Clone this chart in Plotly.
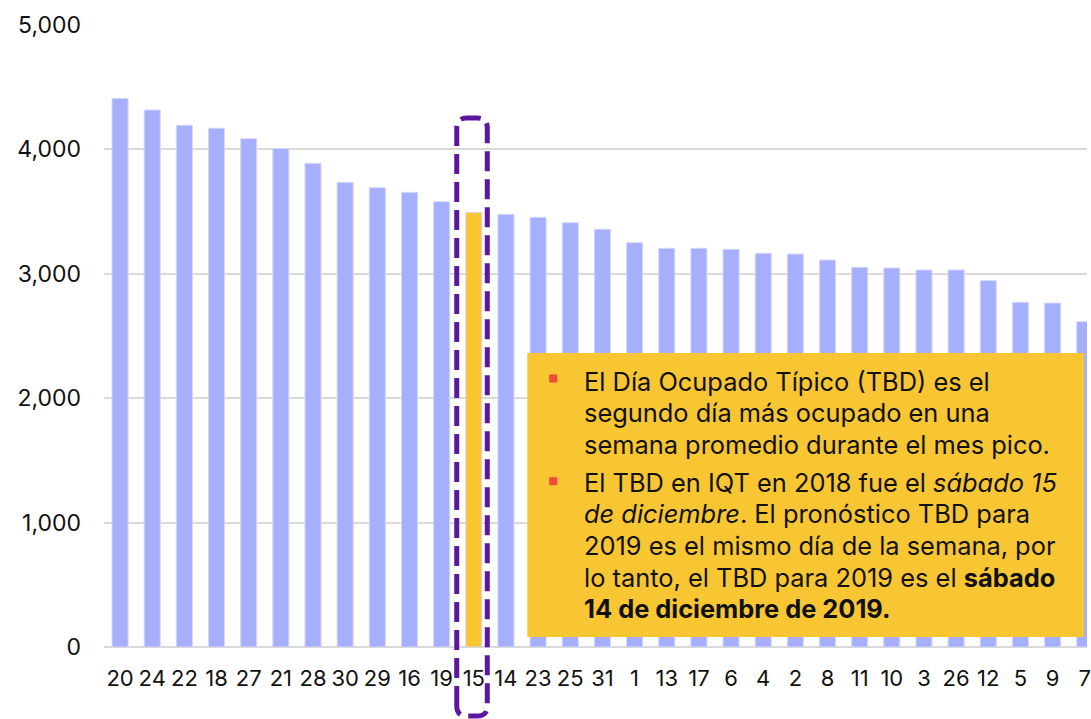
import plotly.graph_objects as go

# ---- data ----
days = ["20", "24", "22", "18", "27", "21", "28", "30", "29", "16", "19", "15", "14", "23", "25", "31",
        "1", "13", "17", "6", "4", "2", "8", "11", "10", "3", "26", "12", "5", "9", "7"]
pax = [4410, 4317, 4194, 4170, 4086, 4007, 3888, 3735, 3692, 3655, 3580, 3494, 3478, 3454, 3411, 3358,
       3250, 3205, 3205, 3197, 3165, 3159, 3111, 3052, 3047, 3031, 3031, 2945, 2771, 2765, 2615]
highlight_day = "15"
y_ticks = [0, 1000, 2000, 3000, 4000, 5000]

bullet1 = ["El Día Ocupado Típico (TBD) es el",
           "segundo día más ocupado en una",
           "semana promedio durante el mes pico."]
bullet2 = ["El TBD en IQT en 2018 fue el <i>sábado 15</i>",
           "<i>de diciembre</i>. El pronóstico TBD para",
           "2019 es el mismo día de la semana, por",
           "lo tanto, el TBD para 2019 es el <b>sábado</b>",
           "<b>14 de diciembre de 2019.</b>"]

# ---- layout geometry (page pixels) ----
W, H = 1091, 719
L, R, T, B = 104, 0, 25, 72
XMIN, XMAX = -0.5, 30.07
YMIN, YMAX = 0, 5000
FONT = "Inter, Roboto, sans-serif"

BAR_C = "#A6AFFC"
HI_C = "#F9C632"
BOX_C = "#F8C632"
PURPLE = "#5B17A0"
RED = "#F2493A"

PW = W - L - R
PH = H - T - B


def px_x(px):
    return (px - L) / PW


def px_y(py):
    return (H - B - py) / PH


def dx_paper(x):
    return (x - XMIN) / (XMAX - XMIN)


xs = list(range(len(days)))
colors = [HI_C if d == highlight_day else BAR_C for d in days]

fig = go.Figure()
fig.add_trace(go.Bar(x=xs, y=pax, marker=dict(color=colors, line=dict(color="#D4D8FE", width=1)),
                     width=0.5, hoverinfo="skip"))

shapes = []
# dashed rounded box around highlighted bar
hi = days.index(highlight_day)
x0, x1 = dx_paper(hi - 0.53), dx_paper(hi + 0.42)
yt, yb = px_y(118), px_y(716)
rx = 10 / PW
ry = 10 / PH
path = (f"M {x0},{yb + ry} L {x0},{yt - ry} Q {x0},{yt} {x0 + rx},{yt} "
        f"L {x1 - rx},{yt} Q {x1},{yt} {x1},{yt - ry} L {x1},{yb + ry} "
        f"Q {x1},{yb} {x1 - rx},{yb} L {x0 + rx},{yb} Q {x0},{yb} {x0},{yb + ry} Z")
shapes.append(dict(type="path", path=path, xref="paper", yref="paper",
                   line=dict(color=PURPLE, width=5, dash="20px,8px"), layer="above"))

# text box
shapes.append(dict(type="rect", xref="paper", yref="paper", x0=px_x(529), x1=px_x(1088),
                   y0=px_y(637), y1=px_y(353), fillcolor=BOX_C, line=dict(width=0), layer="above"))

annotations = []
line_h = 31.7
tx = px_x(584)
start1 = 381
start2 = 482
for i, ln in enumerate(bullet1):
    annotations.append(dict(x=tx, y=px_y(start1 + i * line_h), xref="paper", yref="paper",
                            text=ln, showarrow=False, xanchor="left", yanchor="middle",
                            font=dict(family=FONT, size=25.4, color="#111111")))
for i, ln in enumerate(bullet2):
    annotations.append(dict(x=tx, y=px_y(start2 + i * line_h), xref="paper", yref="paper",
                            text=ln, showarrow=False, xanchor="left", yanchor="middle",
                            font=dict(family=FONT, size=25.4, color="#111111")))
for yc in (378.5, 481.2):
    shapes.append(dict(type="rect", xref="paper", yref="paper",
                       x0=px_x(551), x1=px_x(559), y0=px_y(yc + 4), y1=px_y(yc - 4),
                       fillcolor=RED, line=dict(width=0), layer="above"))

fig.update_layout(
    width=W, height=H,
    margin=dict(l=L, r=R, t=T, b=B),
    paper_bgcolor="white", plot_bgcolor="white",
    showlegend=False,
    bargap=0.5,
    shapes=shapes,
    annotations=annotations,
    font=dict(family=FONT, size=22, color="#111111"),
    xaxis=dict(range=[XMIN, XMAX], tickmode="array", tickvals=xs, ticktext=days,
               showgrid=False, zeroline=False, showline=False, ticks="",
               ticklabelstandoff=16, ticklabeloverflow="allow", tickfont=dict(size=22)),
    yaxis=dict(range=[YMIN, YMAX], tickmode="array", tickvals=y_ticks,
               ticktext=[f"{v:,}" for v in y_ticks],
               showgrid=True, gridcolor="#D9D9D9", gridwidth=1.5,
               zeroline=True, zerolinecolor="#D9D9D9", zerolinewidth=1.5,
               showline=False, ticks="", ticklabelstandoff=22, tickfont=dict(size=23)),
)

fig.write_html("out.html", config={"displayModeBar": False},
               post_script="document.body.style.margin='0px';document.body.style.overflow='hidden';")
